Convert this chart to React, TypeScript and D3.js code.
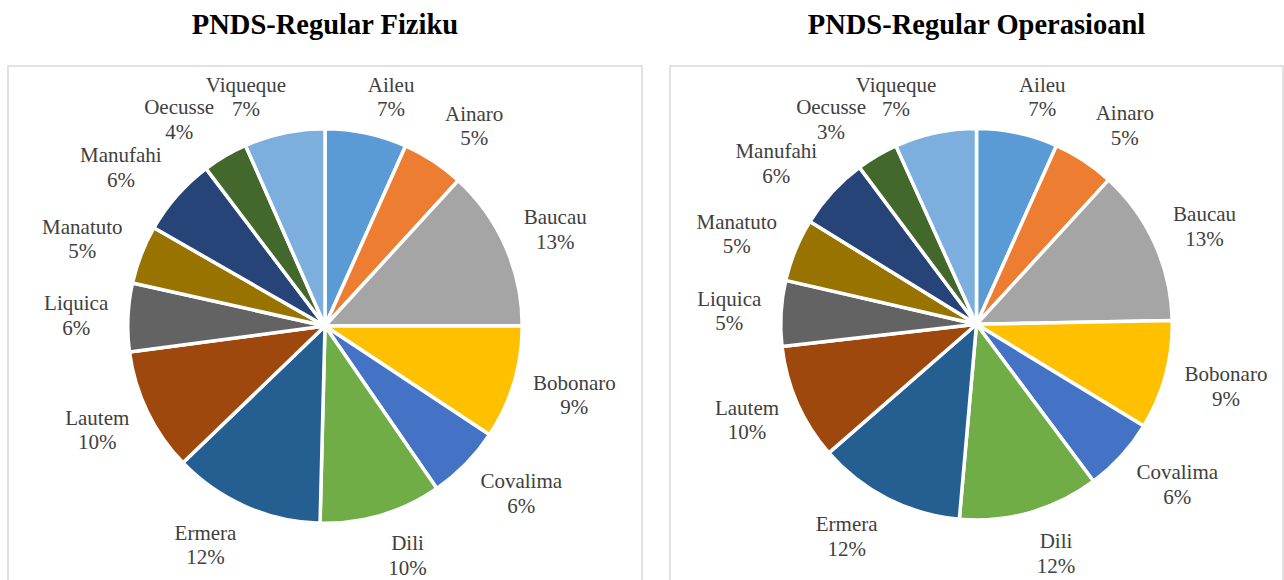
import React from "react";
import * as d3 from "d3";

// districts in the order the slices run, clockwise from 12 o'clock
const districts = [
  "Aileu", "Ainaro", "Baucau", "Bobonaro", "Covalima", "Dili", "Ermera",
  "Lautem", "Liquica", "Manatuto", "Manufahi", "Oecusse", "Viqueque",
];

// shares (percent)
const fizikuShare = [6.7, 5.1, 13.2, 9.3, 6.1, 10.0, 12.4, 10.1, 5.6, 4.8, 6.4, 3.7, 6.6];
const operasionalShare = [6.7, 5.1, 12.9, 9.0, 6.1, 11.6, 12.2, 9.6, 5.4, 5.2, 6.0, 3.45, 6.75];

const titles = ["PNDS-Regular Fiziku", "PNDS-Regular Operasioanl"];

const colors = [
  "#5B9BD5", "#ED7D31", "#A5A5A5", "#FFC000", "#4472C4", "#70AD47", "#255E91",
  "#9E480E", "#636363", "#997300", "#264478", "#43682B", "#7CAFDD",
];

const width = 1284;
const height = 580;
const fontFamily = "'Liberation Serif', 'Times New Roman', serif";
const labelSize = 21;
const lineH = 24.5;

// panel boxes and pie geometry
const panels = [
  { x: 8, y: 66, w: 634, cx: 325, cy: 326, r: 195.5, values: fizikuShare, title: titles[0] },
  { x: 670, y: 66, w: 613, cx: 976.5, cy: 324.3, r: 194, values: operasionalShare, title: titles[1] },
];

const measureCtx = document.createElement("canvas").getContext("2d");
const textWidth = (s: string) => {
  if (!measureCtx) return s.length * labelSize * 0.45;
  measureCtx.font = `${labelSize}px 'Liberation Serif'`;
  return measureCtx.measureText(s).width;
};

const PiePanel = ({ panel }) => {
  const { x, y, w, cx, cy, r, values, title } = panel;
  const total = d3.sum(values);
  const arcs = d3.pie<number>().sort(null).value((d) => d)(values);
  const arcGen = d3.arc<d3.PieArcDatum<number>>().innerRadius(0).outerRadius(r + 1.75);
  const labelR = r + 19.5;
  const boxH = lineH * 2;

  const labels = arcs.map((a, i) => {
    const mid = (a.startAngle + a.endAngle) / 2;
    const pct = `${Math.round((a.value / total) * 100)}%`;
    const bw = Math.max(textWidth(districts[i]), textWidth(pct)) + 4;
    const px = cx + labelR * Math.sin(mid);
    const py = cy - labelR * Math.cos(mid);
    const fx = Math.max(-1, Math.min(1, Math.sin(mid) * 4));
    const lx = px + (fx * bw) / 2;
    let ly = py - (Math.cos(mid) * boxH) / 2;
    ly = Math.max(ly, y + 31);
    return { name: districts[i], pct, lx, ly };
  });

  return (
    <g>
      <text
        x={x + w / 2}
        y={33.5}
        textAnchor="middle"
        fontFamily={fontFamily}
        fontWeight="bold"
        fontSize={28.5}
        fill="#000"
      >
        {title}
      </text>
      <rect x={x} y={y} width={w} height={height} fill="#fff" stroke="#d9d9d9" strokeWidth={1.5} />
      <g transform={`translate(${cx},${cy})`}>
        {arcs.map((a, i) => (
          <path key={districts[i]} d={arcGen(a) || ""} fill={colors[i]} stroke="#fff" strokeWidth={3.5} strokeLinejoin="round" />
        ))}
      </g>
      {labels.map((l) => (
        <text key={l.name} textAnchor="middle" fontFamily={fontFamily} fontSize={labelSize} fill="#404040">
          <tspan x={l.lx} y={l.ly - lineH / 2 + 7}>{l.name}</tspan>
          <tspan x={l.lx} y={l.ly + lineH / 2 + 7}>{l.pct}</tspan>
        </text>
      ))}
    </g>
  );
};

const App = () => (
  <>
    <style>{"body{margin:0}"}</style>
    <svg width={width} height={height} style={{ display: "block", background: "#fff" }}>
      {panels.map((p) => (
        <PiePanel key={p.title} panel={p} />
      ))}
    </svg>
  </>
);

export default App;
